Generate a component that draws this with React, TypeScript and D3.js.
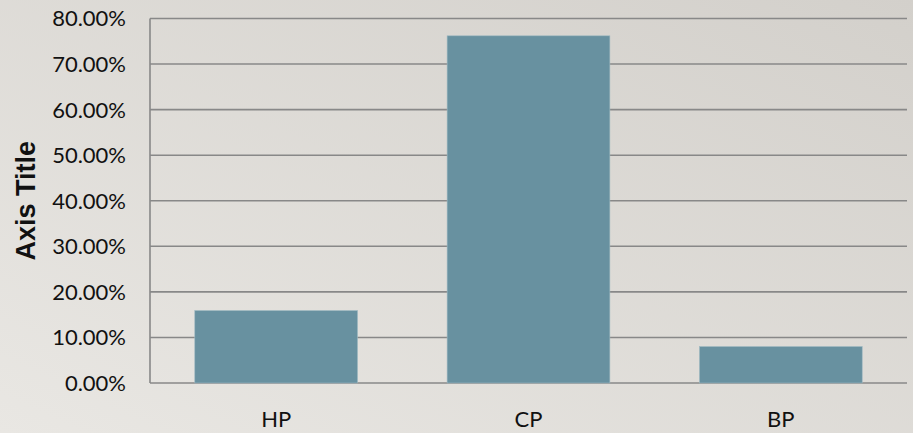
import React, { useEffect, useRef } from "react";
import * as d3 from "d3";

const categories = ["HP", "CP", "BP"];
const values = [0.159, 0.762, 0.08];
const yTicks = [0, 0.1, 0.2, 0.3, 0.4, 0.5, 0.6, 0.7, 0.8];
const axisTitle = "Axis Title";

const W = 913;
const H = 433;

export default function App() {
  const svgRef = useRef<SVGSVGElement | null>(null);

  useEffect(() => {
    document.body.style.margin = "0";
    const svg = d3.select(svgRef.current);
    svg.selectAll("*").remove();

    const left = 150, right = 907, top = 18.5, bottom = 383;

    const defs = svg.append("defs");
    const grad = defs.append("linearGradient")
      .attr("id", "bg")
      .attr("x1", "0%").attr("y1", "100%")
      .attr("x2", "100%").attr("y2", "0%");
    grad.append("stop").attr("offset", "0%").attr("stop-color", "#e9e7e3");
    grad.append("stop").attr("offset", "100%").attr("stop-color", "#d3d0cb");

    svg.append("rect").attr("width", W).attr("height", H).attr("fill", "url(#bg)");

    const x = d3.scaleBand().domain(categories).range([left, right])
      .paddingInner(0.355).paddingOuter(0.1775);
    const y = d3.scaleLinear().domain([0, 0.8]).range([bottom, top]);

    // gridlines
    svg.append("g")
      .selectAll("line")
      .data(yTicks)
      .join("line")
      .attr("x1", left)
      .attr("x2", right)
      .attr("y1", d => y(d))
      .attr("y2", d => y(d))
      .attr("stroke", "#888888")
      .attr("stroke-width", 1.6);

    // bars
    svg.append("g")
      .selectAll("rect")
      .data(values)
      .join("rect")
      .attr("x", (_, i) => x(categories[i])!)
      .attr("width", x.bandwidth())
      .attr("y", d => y(d))
      .attr("height", d => y(0) - y(d))
      .attr("fill", "#6891a0")
      .attr("stroke", "#9fb9c2")
      .attr("stroke-width", 0.6);

    // y axis line
    svg.append("line")
      .attr("x1", left).attr("x2", left)
      .attr("y1", top).attr("y2", bottom)
      .attr("stroke", "#888888")
      .attr("stroke-width", 1.6);

    // tick labels
    svg.append("g")
      .selectAll("text")
      .data(yTicks)
      .join("text")
      .attr("x", 126)
      .attr("y", d => y(d))
      .attr("dy", "0.36em")
      .attr("text-anchor", "end")
      .attr("font-family", "Lato, 'Open Sans', sans-serif")
      .attr("font-size", 22)
      .attr("fill", "#111")
      .text(d => d3.format(".2%")(d));

    // category labels
    svg.append("g")
      .selectAll("text")
      .data(categories)
      .join("text")
      .attr("x", d => x(d)! + x.bandwidth() / 2)
      .attr("y", 427)
      .attr("text-anchor", "middle")
      .attr("font-family", "Lato, 'Open Sans', sans-serif")
      .attr("font-size", 22)
      .attr("fill", "#111")
      .text(d => d);

    // axis title
    svg.append("text")
      .attr("transform", `translate(35,${(top + bottom) / 2}) rotate(-90)`)
      .attr("text-anchor", "middle")
      .attr("font-family", "'Liberation Sans', Arial, sans-serif")
      .attr("font-weight", "bold")
      .attr("font-size", 27)
      .attr("fill", "#111")
      .text(axisTitle);
  }, []);

  return <svg ref={svgRef} width={W} height={H} style={{ display: "block" }} />;
}
